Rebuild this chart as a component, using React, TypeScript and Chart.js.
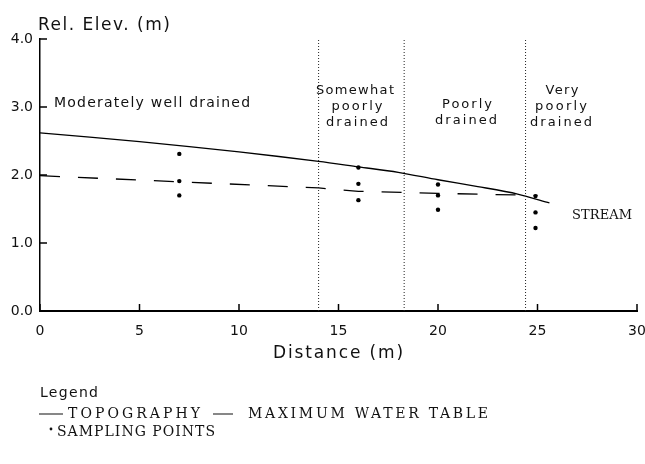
import React, { useEffect, useRef } from 'react';
import { Chart, registerables } from 'chart.js';

Chart.register(...registerables);

// ---- Data ----
const topoX = [0, 5, 10, 14, 16, 18, 20, 22, 24, 25.6];
const topoY = [2.62, 2.49, 2.34, 2.2, 2.12, 2.04, 1.93, 1.83, 1.72, 1.59];

const waterX = [0, 7, 14, 16, 20, 25];
const waterY = [1.99, 1.9, 1.81, 1.76, 1.73, 1.7];

const sampleX = [7, 7, 7, 16, 16, 16, 20, 20, 20, 24.9, 24.9, 24.9];
const sampleY = [2.31, 1.91, 1.7, 2.11, 1.87, 1.63, 1.86, 1.7, 1.49, 1.69, 1.45, 1.22];

const boundaryX = [14, 18.3, 24.4];

const xTicks = [0, 5, 10, 15, 20, 25, 30];
const yTicks = [0, 1, 2, 3, 4];

const SANS = '"DejaVu Sans", sans-serif';
const SERIF = '"DejaVu Serif", serif';

function fitText(ctx: CanvasRenderingContext2D, text: string, x: number, y: number, width: number, font: string, align: 'left' | 'center' = 'left') {
  ctx.save();
  ctx.font = font;
  ctx.textBaseline = 'alphabetic';
  ctx.textAlign = 'left';
  const anyCtx = ctx as any;
  if ('letterSpacing' in anyCtx) anyCtx.letterSpacing = '0px';
  const w = ctx.measureText(text).width;
  const n = text.length;
  let left = align === 'center' ? x - width / 2 : x;
  if ('letterSpacing' in anyCtx && n > 1) {
    const ls = (width - w) / (n - 1);
    anyCtx.letterSpacing = ls.toFixed(2) + 'px';
    ctx.fillText(text, left, y);
  } else {
    ctx.translate(left, y);
    ctx.scale(width / w, 1);
    ctx.fillText(text, 0, 0);
  }
  ctx.restore();
}

const decorPlugin = {
  id: 'decor',
  afterDraw(chart: any) {
    const ctx: CanvasRenderingContext2D = chart.ctx;
    const xs = chart.scales.x;
    const ys = chart.scales.y;
    const area = chart.chartArea;
    ctx.save();
    ctx.strokeStyle = '#000';
    ctx.fillStyle = '#000';
    ctx.lineWidth = 1.5;
    // inner tick marks
    yTicks.forEach((v) => {
      const py = ys.getPixelForValue(v);
      ctx.beginPath();
      ctx.moveTo(area.left, py);
      ctx.lineTo(area.left + 7, py);
      ctx.stroke();
    });
    xTicks.forEach((v) => {
      const px = xs.getPixelForValue(v);
      ctx.beginPath();
      ctx.moveTo(px, area.bottom);
      ctx.lineTo(px, area.bottom - 7);
      ctx.stroke();
    });
    ctx.restore();

    ctx.save();
    ctx.fillStyle = '#111';
    fitText(ctx, 'Rel. Elev. (m)', 38, 30, 132, `17px ${SANS}`);
    fitText(ctx, 'Moderately well drained', 54, 107, 196, `14px ${SANS}`);

    fitText(ctx, 'Somewhat', 355, 94, 78, `13px ${SANS}`, 'center');
    fitText(ctx, 'poorly', 357, 110, 51, `13px ${SANS}`, 'center');
    fitText(ctx, 'drained', 357, 126, 62, `13px ${SANS}`, 'center');

    fitText(ctx, 'Poorly', 467, 108, 50, `13px ${SANS}`, 'center');
    fitText(ctx, 'drained', 466, 124, 62, `13px ${SANS}`, 'center');

    fitText(ctx, 'Very', 562, 94, 33, `13px ${SANS}`, 'center');
    fitText(ctx, 'poorly', 561, 110, 52, `13px ${SANS}`, 'center');
    fitText(ctx, 'drained', 561, 126, 62, `13px ${SANS}`, 'center');

    fitText(ctx, 'STREAM', 572, 219, 60, `13px ${SERIF}`);

    fitText(ctx, 'Distance (m)', 273, 358, 130, `17px ${SANS}`);

    fitText(ctx, 'Legend', 40, 397, 58, `14px ${SANS}`);

    ctx.strokeStyle = '#111';
    ctx.lineWidth = 1.2;
    ctx.beginPath();
    ctx.moveTo(39, 414);
    ctx.lineTo(63, 414);
    ctx.moveTo(213, 414);
    ctx.lineTo(233, 414);
    ctx.stroke();
    fitText(ctx, 'TOPOGRAPHY', 68, 418, 132, `14px ${SERIF}`);
    fitText(ctx, 'MAXIMUM WATER TABLE', 248, 418, 240, `14px ${SERIF}`);
    ctx.beginPath();
    ctx.arc(51, 429, 1.4, 0, Math.PI * 2);
    ctx.fill();
    fitText(ctx, 'SAMPLING POINTS', 57, 436, 158, `14px ${SERIF}`);
    ctx.restore();
  },
};

export default function App() {
  const ref = useRef<HTMLCanvasElement>(null);

  useEffect(() => {
    if (!ref.current) return;
    const boundaryDatasets = boundaryX.map((bx) => ({
      type: 'line' as const,
      data: [
        { x: bx, y: 0 },
        { x: bx, y: 4 },
      ],
      borderColor: '#222',
      borderWidth: 1,
      borderDash: [1, 2],
      pointRadius: 0,
      fill: false,
    }));
    const chart = new Chart(ref.current, {
      type: 'scatter',
      data: {
        datasets: [
          ...boundaryDatasets,
          {
            type: 'line',
            data: topoX.map((x, i) => ({ x, y: topoY[i] })),
            borderColor: '#000',
            borderWidth: 1.3,
            pointRadius: 0,
            tension: 0.3,
            fill: false,
          },
          {
            type: 'line',
            data: waterX.map((x, i) => ({ x, y: waterY[i] })),
            borderColor: '#000',
            borderWidth: 1.3,
            borderDash: [20, 18],
            pointRadius: 0,
            tension: 0,
            fill: false,
          },
          {
            type: 'scatter',
            data: sampleX.map((x, i) => ({ x, y: sampleY[i] })),
            backgroundColor: '#000',
            borderColor: '#000',
            pointRadius: 2.2,
            borderWidth: 0,
          },
        ] as any,
      },
      options: {
        animation: false,
        responsive: false,
        devicePixelRatio: 1,
        layout: { padding: { top: 39, right: 8, left: 0, bottom: 0 } },
        plugins: { legend: { display: false }, tooltip: { enabled: false } },
        scales: {
          x: {
            type: 'linear',
            min: 0,
            max: 30,
            afterFit: (s: any) => {
              s.height = 153;
              s.paddingLeft = 0;
              s.paddingRight = 0;
            },
            afterBuildTicks: (s: any) => {
              s.ticks = xTicks.map((v) => ({ value: v }));
            },
            grid: { display: false, drawTicks: false },
            border: { display: true, color: '#000', width: 2 },
            ticks: {
              autoSkip: false,
              maxRotation: 0,
              padding: 12,
              color: '#111',
              font: { family: 'DejaVu Sans', size: 14 },
              callback: (v: any) => String(v),
            },
          },
          y: {
            type: 'linear',
            min: 0,
            max: 4,
            afterFit: (s: any) => {
              s.width = 40;
              s.paddingTop = 0;
              s.paddingBottom = 0;
            },
            afterBuildTicks: (s: any) => {
              s.ticks = yTicks.map((v) => ({ value: v }));
            },
            grid: { display: false, drawTicks: false },
            border: { display: true, color: '#000', width: 1.5 },
            ticks: {
              padding: 7,
              color: '#111',
              font: { family: 'DejaVu Sans', size: 14 },
              callback: (v: any) => Number(v).toFixed(1),
            },
          },
        },
      },
      plugins: [decorPlugin],
    });
    return () => chart.destroy();
  }, []);

  return (
    <div style={{ position: 'absolute', left: 0, top: 0, width: 645, height: 464, background: '#fff' }}>
      <canvas ref={ref} width={645} height={464} style={{ width: 645, height: 464 }} />
    </div>
  );
}
